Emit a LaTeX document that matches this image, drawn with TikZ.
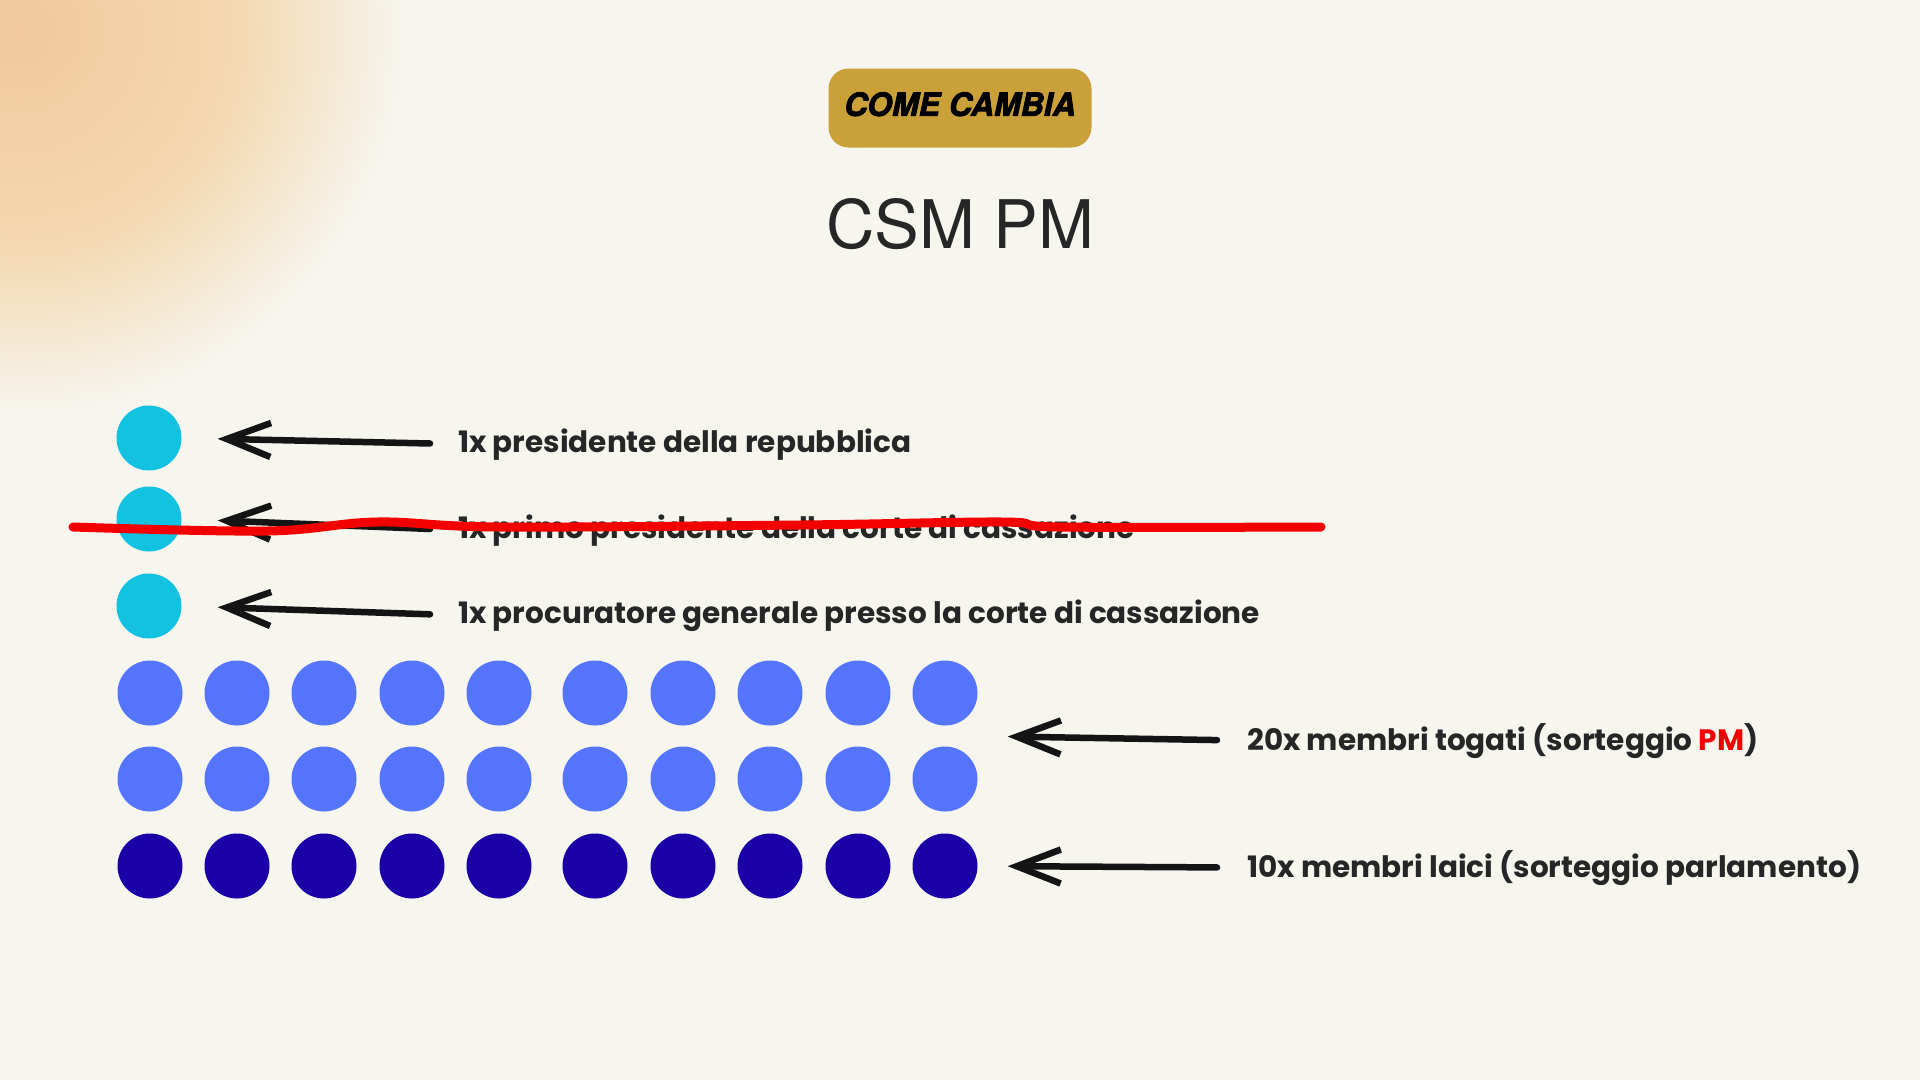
\documentclass[tikz,border=0pt]{standalone}
\usepackage{fontspec}
\setmainfont{Poppins}
\newfontfamily\headfont{TeX Gyre Heros}
\newfontfamily\badgefont{TeX Gyre Heros}[BoldItalicFeatures={FakeBold=2.4}]
\usetikzlibrary{arrows.meta, calc}
\definecolor{bgcream}{HTML}{F6F5EE}
\definecolor{glowpeach}{HTML}{F1C99C}
\definecolor{glowsoft}{HTML}{F4D8B0}
\definecolor{badgegold}{HTML}{C9A138}
\definecolor{inkdark}{HTML}{262626}
\definecolor{dotcyan}{HTML}{12C2E0}
\definecolor{dotblue}{HTML}{5574FF}
\definecolor{dotnavy}{HTML}{1B00A8}
\definecolor{strikered}{HTML}{F20000}
\pgfdeclareradialshading{glowshade}{\pgfpoint{0bp}{0bp}}{color(0bp)=(glowpeach); color(14bp)=(glowsoft); color(25bp)=(bgcream); color(50bp)=(bgcream)}

\begin{document}
\begin{tikzpicture}[x=1pt, y=-1pt,
  dot/.style={circle, inner sep=0pt, minimum size=65pt},
  lbl/.style={font=\fontsize{29.5}{34}\selectfont\bfseries, text=inkdark, inner sep=0pt, anchor=base west},
  hand/.style={-{Straight Barb[length=44pt, width=34pt]}, line width=6.5pt, line cap=round, black!92}
]
\useasboundingbox (0,0) rectangle (1920,1080);
\fill[bgcream] (0,0) rectangle (1920,1080);
\begin{scope}
  \clip (0,0) rectangle (1920,1080);
  \shade[shading=glowshade] (20,30) circle (385);
\end{scope}

\node[fill=badgegold, rounded corners=20pt, minimum width=263pt, minimum height=79pt, text depth=8pt,
  font=\badgefont\bfseries\itshape\fontsize{32}{36}\selectfont, text=black] (badge) at (960,108) {COME CAMBIA};
\node[font=\headfont\fontsize{67}{70}\selectfont, text=inkdark, anchor=base] (title) at (960,248) {CSM PM};

\node[dot, fill=dotcyan] (d1) at (149,438) {};
\node[dot, fill=dotcyan] (d2) at (149,519) {};
\node[dot, fill=dotcyan] (d3) at (149,606) {};
\foreach \c/\x in {1/150,2/237,3/324,4/412,5/499,6/595,7/683,8/770,9/858,10/945} {
  \node[dot, fill=dotblue] (r1c\c) at (\x,693) {};
  \node[dot, fill=dotblue] (r2c\c) at (\x,779) {};
  \node[dot, fill=dotnavy] (r3c\c) at (\x,866) {};
}

\node[lbl] (t1) at (458,452) {1x presidente della repubblica};
\node[lbl] (t2) at (458,538) {1x primo presidente della corte di cassazione};
\node[lbl] (t3) at (458,623) {1x procuratore generale presso la corte di cassazione};
\node[lbl] (t4) at (1247,750) {20x membri togati (sorteggio {\color{strikered}PM})};
\node[lbl] (t5) at (1247,877) {10x membri laici (sorteggio parlamento)};

\draw[hand, shorten <=28pt, shorten >=36pt] (t1.west) -- (d1.east);
\draw[hand, shorten <=28pt, shorten >=36pt] (t2.west) -- (d2.east);
\draw[hand, shorten <=28pt, shorten >=36pt] (t3.west) -- (d3.east);
\coordinate (togati) at ($(r1c10.east)!0.5!(r2c10.east)$);
\draw[hand, shorten <=30pt, shorten >=30pt] (t4.west) -- (togati);
\draw[hand, shorten <=30pt, shorten >=30pt] (t5.west) -- (r3c10.east);

% strike-through
\draw[strikered, line width=9pt, line cap=round] plot[smooth, tension=0.6] coordinates
  {(73,527) (267,531) (377,522) (500,527) (800,525) (1003,522) (1060,527) (1321,527)};
\end{tikzpicture}
\end{document}
